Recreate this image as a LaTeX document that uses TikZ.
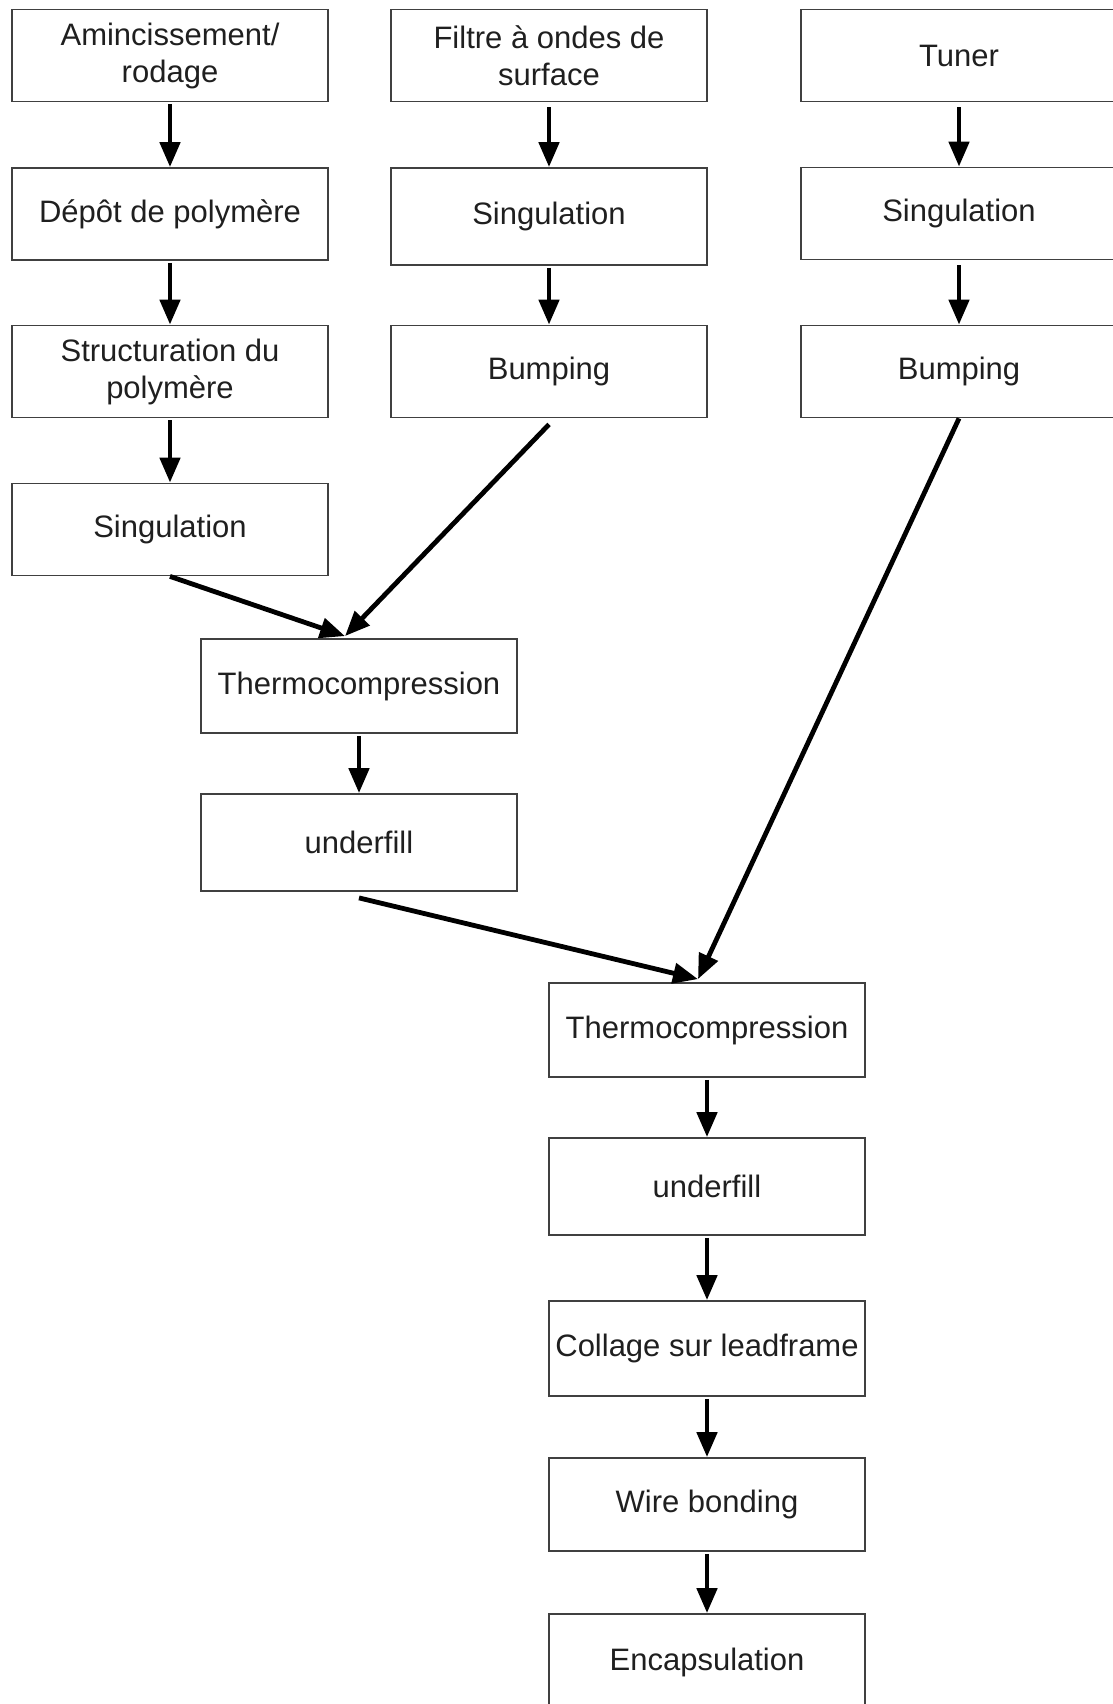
\documentclass[tikz,border=0pt]{standalone}
\usepackage{fontspec}
\setmainfont{Liberation Sans}
\usetikzlibrary{arrows.meta}
\begin{document}
\begin{tikzpicture}[x=1pt,y=-1pt,
  box/.style={draw=black!75, line width=1.8pt, minimum width=316pt, minimum height=92pt,
    inner sep=0pt, align=center, text=black!88, font=\fontsize{31}{37}\selectfont},
  flow/.style={line width=4.8pt, -{Triangle[length=25pt,width=20pt]}}]
\useasboundingbox (0,0) rectangle (1112,1704);
% column 1
\node[box] (a1) at (170,55.5) {Amincissement/\\rodage};
\node[box] (a2) at (170,214) {Dépôt de polymère};
\node[box] (a3) at (170,371.5) {Structuration du\\polymère};
\node[box] (a4) at (170,529.5) {Singulation};
% column 2
\node[box] (b1) at (549,55.5) {Filtre à ondes de\\surface};
\node[box, minimum height=97pt] (b2) at (549,216.5) {Singulation};
\node[box] (b3) at (549,371.5) {Bumping};
% column 3
\node[box] (c1) at (959,55.5) {Tuner};
\node[box] (c2) at (959,213.5) {Singulation};
\node[box] (c3) at (959,371.5) {Bumping};
% middle
\node[box, minimum height=94pt] (t1) at (359,686) {Thermocompression};
\node[box, minimum height=97pt] (u1) at (359,842.5) {underfill};
% bottom column
\node[box, minimum height=94pt] (t2) at (707,1030) {Thermocompression};
\node[box, minimum height=97pt] (u2) at (707,1186.5) {underfill};
\node[box, minimum height=95pt] (cl) at (707,1348.5) {Collage sur leadframe};
\node[box, minimum height=93pt] (wb) at (707,1504.5) {Wire bonding};
\node[box, minimum height=96pt] (en) at (707,1662) {Encapsulation};
% merge points
\coordinate (m1) at ([xshift=-14pt,yshift=2pt]t1.north);
\coordinate (m2) at ([xshift=-9pt,yshift=3pt]t2.north);
% connectors
\draw[flow] ([yshift=-2pt]a1.south) -- (a2.north);
\draw[flow] ([yshift=-2pt]a2.south) -- (a3.north);
\draw[flow] ([yshift=-2pt]a3.south) -- (a4.north);
\draw[flow] ([yshift=-5pt]b1.south) -- (b2.north);
\draw[flow] ([yshift=-2pt]b2.south) -- (b3.north);
\draw[flow] ([yshift=-5pt]c1.south) -- (c2.north);
\draw[flow] ([yshift=-5pt]c2.south) -- (c3.north);
\draw[flow] (a4.south) -- (m1);
\draw[flow] ([yshift=-6pt]b3.south) -- (m1);
\draw[flow] ([yshift=-2pt]t1.south) -- (u1.north);
\draw[flow] ([yshift=-6pt]u1.south) -- (m2);
\draw[flow] (c3.south) -- (m2);
\draw[flow] ([yshift=-2pt]t2.south) -- (u2.north);
\draw[flow] ([yshift=-2pt]u2.south) -- (cl.north);
\draw[flow] ([yshift=-2pt]cl.south) -- (wb.north);
\draw[flow] ([yshift=-2pt]wb.south) -- (en.north);
\end{tikzpicture}
\end{document}
